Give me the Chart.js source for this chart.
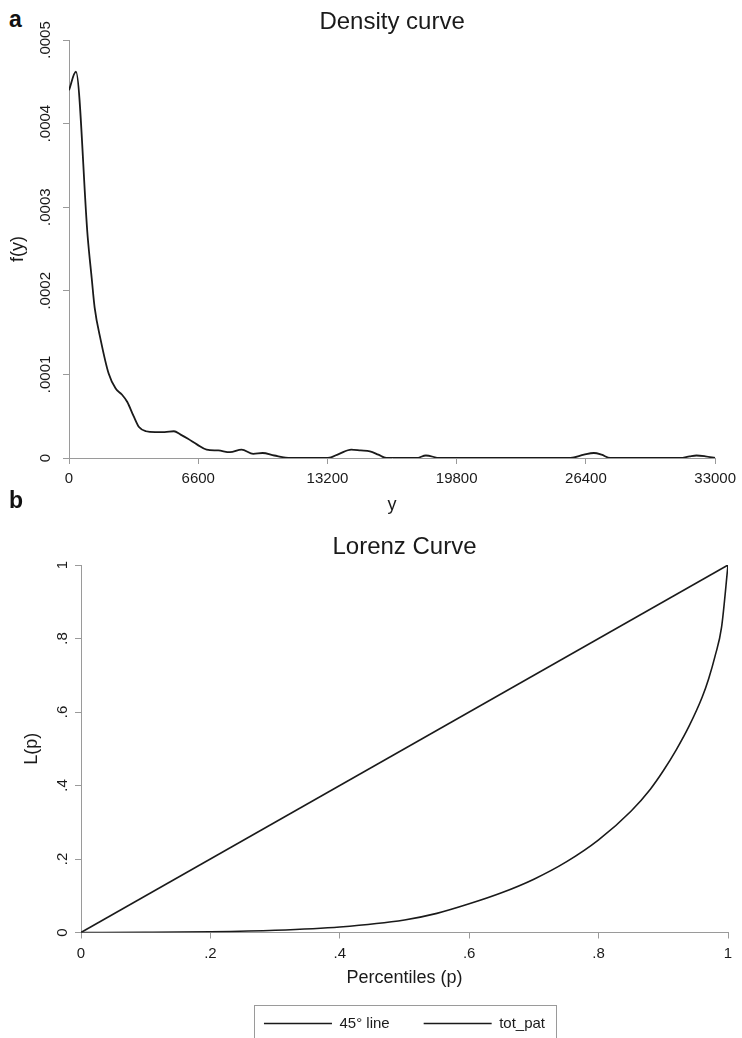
<!DOCTYPE html>
<html lang="en">
<head>
    <meta charset="UTF-8">
    <title>Density curve and Lorenz Curve</title>
    <script src="https://cdn.jsdelivr.net/npm/chart.js"></script>
    <style>
        html, body { margin: 0; padding: 0; background: #fff; overflow: hidden; }
        #page { position: relative; width: 742px; height: 1038px; overflow: hidden; }
        canvas { position: absolute; left: 0; }
        .panel { position: absolute; font: bold 23px 'Liberation Sans', Arial, sans-serif; line-height: 24px; color: #111; }
    </style>
</head>
<body>
<div id="page">
    <div class="panel" style="left:9px; top:7px;">a</div>
    <canvas id="densityChart" width="742" height="520" style="top:0;"></canvas>
    <div class="panel" style="left:9px; top:488px;">b</div>
    <canvas id="lorenzChart" width="742" height="516" style="top:525px;"></canvas>
</div>

<script>
    // Density curve (kernel estimate)
    const densityX = [0, 353, 953, 1160, 1310, 1620, 2025, 2383, 2700, 2978, 3300, 3574, 3931, 4400, 4884, 5360,
        5700, 6076, 6550, 7029, 7624, 8220, 8815, 9411, 9887, 10483, 11317, 13224, 13800, 14416, 14900, 15369,
        15800, 16202, 17750, 18227, 18942, 25614, 26300, 26805, 27200, 27639, 31213, 31700, 32047, 32500, 33000];
    const densityY = [0.000440, 0.000462, 0.000265, 0.000215, 0.000180, 0.000141, 0.000101, 0.000083, 0.000076,
        0.000067, 0.000050, 0.000037, 0.000032, 0.000031, 0.000031, 0.000032, 0.000028, 0.000023, 0.000016,
        0.000010, 0.000009, 0.000007, 0.000010, 0.000005, 0.000006, 0.000003, 0, 0, 0.000005, 0.000010,
        0.000009, 0.000008, 0.000004, 0, 0, 0.000003, 0, 0, 0.000004, 0.000006, 0.000004, 0, 0, 0.000002,
        0.000003, 0.000002, 0];
    const densityXTicks = [0, 6600, 13200, 19800, 26400, 33000];
    const densityXLabels = ['0', '6600', '13200', '19800', '26400', '33000'];
    const densityYTicks = [0, 0.0001, 0.0002, 0.0003, 0.0004, 0.0005];
    const densityYLabels = ['0', '.0001', '.0002', '.0003', '.0004', '.0005'];

    // Lorenz curve
    const equalityP = [0, 1];
    const equalityL = [0, 1];
    const lorenzP = [0, 0.1, 0.2, 0.3, 0.4, 0.5, 0.55, 0.6, 0.65, 0.7, 0.75, 0.8, 0.85, 0.88, 0.9, 0.92, 0.94,
        0.96, 0.97, 0.98, 0.99, 1];
    const lorenzL = [0, 0.0005, 0.002, 0.006, 0.015, 0.034, 0.052, 0.078, 0.108, 0.145, 0.192, 0.252, 0.33,
        0.39, 0.44, 0.497, 0.562, 0.64, 0.69, 0.752, 0.83, 1];
    const lorenzTicks = [0, 0.2, 0.4, 0.6, 0.8, 1];
    const lorenzTickLabels = ['0', '.2', '.4', '.6', '.8', '1'];

    const axisGray = '#9a9a9a';
    const lineColor = '#1a1a1a';
    Chart.defaults.font.family = "'Liberation Sans', Arial, Helvetica, sans-serif";
    Chart.defaults.color = '#1a1a1a';

    const toPoints = (xs, ys) => xs.map((x, i) => ({ x: x, y: ys[i] }));
    const fixedTicks = (values) => (scale) => { scale.ticks = values.map(v => ({ value: v })); };

    const axis = (min, max, values, labels, extra) => Object.assign({
        type: 'linear',
        min: min,
        max: max,
        afterBuildTicks: fixedTicks(values),
        border: { display: true, color: axisGray, width: 1 },
        grid: { drawOnChartArea: false, color: axisGray, tickLength: 6, tickColor: axisGray },
        ticks: { font: { size: 15 }, color: '#1a1a1a', callback: (v, i) => labels[i] }
    }, extra);

    // frame round the legend, Stata style
    const legendFrame = {
        id: 'legendFrame',
        afterDraw(chart) {
            const lg = chart.legend;
            if (!lg || !lg.options.display || !lg.legendHitBoxes.length) return;
            const boxes = lg.legendHitBoxes;
            const left = Math.min(...boxes.map(b => b.left)) - 10;
            const right = Math.max(...boxes.map(b => b.left + b.width)) + 11;
            const top = boxes[0].top - 11;
            const ctx = chart.ctx;
            ctx.save();
            ctx.strokeStyle = axisGray;
            ctx.lineWidth = 1;
            ctx.strokeRect(Math.round(left) + 0.5, Math.round(top) + 0.5, Math.round(right - left), chart.height);
            ctx.restore();
        }
    };

    new Chart(document.getElementById('densityChart'), {
        type: 'line',
        data: {
            datasets: [{
                label: 'f(y)',
                data: toPoints(densityX, densityY),
                borderColor: lineColor,
                borderWidth: 1.8,
                pointRadius: 0,
                cubicInterpolationMode: 'monotone'
            }]
        },
        options: {
            responsive: false,
            animation: false,
            layout: { padding: { left: 0, right: 21, top: 0, bottom: 0 } },
            plugins: {
                legend: { display: false },
                tooltip: { enabled: false },
                title: {
                    display: true,
                    text: 'Density curve',
                    fullSize: false,
                    font: { size: 24, weight: 'normal' },
                    padding: { top: 8, bottom: 3.2 }
                }
            },
            scales: {
                x: axis(0, 33000, densityXTicks, densityXLabels, {
                    afterFit: (s) => { s.height = 62; },
                    title: { display: true, text: 'y', font: { size: 18 }, padding: { top: 0, bottom: 4 } }
                }),
                y: axis(0, 0.0005, densityYTicks, densityYLabels, {
                    afterFit: (s) => { s.width = 69; },
                    title: { display: true, text: 'f(y)', font: { size: 18 }, padding: { top: 7, bottom: 0 } }
                })
            }
        }
    });
    const densityChart = Chart.getChart('densityChart');
    densityChart.options.scales.y.ticks.minRotation = 90;
    densityChart.options.scales.y.ticks.maxRotation = 90;
    densityChart.options.scales.y.ticks.crossAlign = 'center';
    densityChart.options.scales.y.ticks.padding = -2;
    densityChart.options.scales.x.ticks.padding = 6;
    densityChart.update();

    new Chart(document.getElementById('lorenzChart'), {
        type: 'line',
        data: {
            datasets: [{
                label: '45° line',
                data: toPoints(equalityP, equalityL),
                borderColor: lineColor,
                borderWidth: 1.6,
                pointRadius: 0,
                pointStyle: 'line'
            }, {
                label: 'tot_pat',
                data: toPoints(lorenzP, lorenzL),
                borderColor: lineColor,
                borderWidth: 1.6,
                pointRadius: 0,
                pointStyle: 'line',
                cubicInterpolationMode: 'monotone'
            }]
        },
        options: {
            responsive: false,
            animation: false,
            layout: { padding: { left: 0, right: 14, top: 0, bottom: 0 } },
            plugins: {
                tooltip: { enabled: false },
                title: {
                    display: true,
                    text: 'Lorenz Curve',
                    fullSize: false,
                    font: { size: 24, weight: 'normal' },
                    padding: { top: 8, bottom: 3.2 }
                },
                legend: {
                    position: 'bottom',
                    fullSize: false,
                    labels: {
                        usePointStyle: true,
                        pointStyleWidth: 68,
                        padding: 34,
                        font: { size: 15 },
                        color: '#1a1a1a'
                    }
                }
            },
            scales: {
                x: axis(0, 1, lorenzTicks, lorenzTickLabels, {
                    afterFit: (s) => { s.height = 49.5; },
                    title: { display: true, text: 'Percentiles (p)', font: { size: 18 }, padding: { top: 0, bottom: -7 } }
                }),
                y: axis(0, 1, lorenzTicks, lorenzTickLabels, {
                    afterFit: (s) => { s.width = 81; },
                    title: { display: true, text: 'L(p)', font: { size: 18 }, padding: { top: 21, bottom: 0 } }
                })
            }
        },
        plugins: [legendFrame]
    });
    const lorenzChart = Chart.getChart('lorenzChart');
    lorenzChart.options.scales.y.ticks.minRotation = 90;
    lorenzChart.options.scales.y.ticks.maxRotation = 90;
    lorenzChart.options.scales.y.ticks.crossAlign = 'center';
    lorenzChart.options.scales.y.ticks.padding = 6;
    lorenzChart.options.scales.x.ticks.padding = 6;
    lorenzChart.update();
</script>
</body>
</html>
